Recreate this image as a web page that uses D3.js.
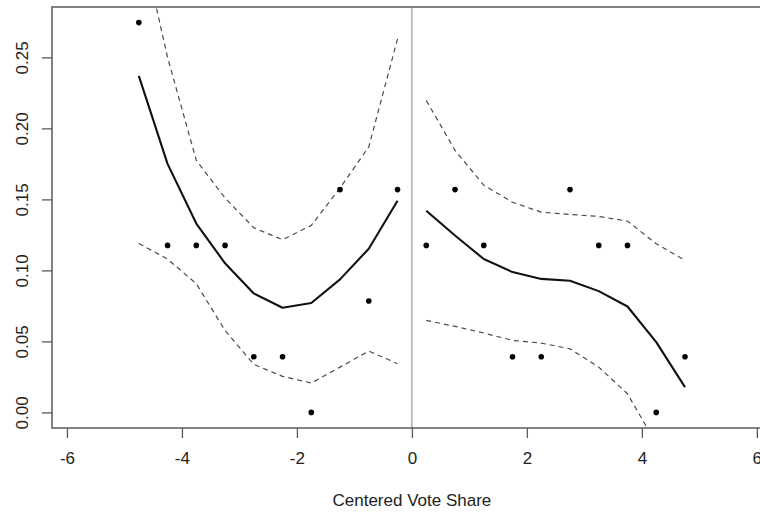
<!DOCTYPE html>
<html>
<head>
<meta charset="utf-8">
<script src="https://cdn.jsdelivr.net/npm/d3@7"></script>
<style>
html,body{margin:0;padding:0;background:#fff;}
svg{display:block;}
text{font-family:"Liberation Sans",Arial,Helvetica,sans-serif;}
</style>
</head>
<body>
<svg id="chart" width="760" height="512"></svg>
<script>
// ---- data ----
const leftX  = [-4.75,-4.25,-3.75,-3.25,-2.75,-2.25,-1.75,-1.25,-0.75,-0.25];
const rightX = [0.25,0.75,1.25,1.75,2.25,2.75,3.25,3.75,4.25,4.75];
const leftPts  = [0.2745,0.1176,0.1176,0.1176,0.0392,0.0392,0.0,0.1569,0.0784,0.1569];
const rightPts = [0.1176,0.1569,0.1176,0.0392,0.0392,0.1569,0.1176,0.1176,0.0,0.0392];
const leftFit  = [0.237,0.175,0.133,0.105,0.0838,0.0737,0.077,0.0937,0.1153,0.149];
const leftUpper= [0.34,0.250,0.1775,0.151,0.130,0.1216,0.1317,0.158,0.187,0.263];
const leftLower= [0.119,0.108,0.0906,0.0577,0.0338,0.0254,0.0207,0.0319,0.0432,0.0343];
const rightFit = [0.142,0.1246,0.108,0.0988,0.094,0.0927,0.0854,0.0746,0.0495,0.0178];
const rightUpper=[0.2197,0.1845,0.160,0.148,0.141,0.1394,0.138,0.1347,0.1188,0.107];
const rightLower=[0.0648,0.0606,0.0559,0.0507,0.0488,0.0448,0.0319,0.0131,-0.022,-0.07];
const xTicks = [-6,-4,-2,0,2,4,6];
const xTickLabels = ["-6","-4","-2","0","2","4","6"];
const yTicks = [0,0.05,0.10,0.15,0.20,0.25];
const yTickLabels = ["0.00","0.05","0.10","0.15","0.20","0.25"];
const xLabel = "Centered Vote Share";

// ---- layout ----
const svg = d3.select("#chart");
const box = {left:52, right:781, top:7, bottom:428};
const yMin = 0, yMax = 0.2745, yPad = (yMax-yMin)*0.04;
const x = d3.scaleLinear().domain([-6.26, 6.42]).range([box.left, box.right]);
const y = d3.scaleLinear().domain([yMin-yPad, yMax+yPad]).range([box.bottom, box.top]);

svg.append("defs").append("clipPath").attr("id","clip")
  .append("rect").attr("x",box.left).attr("y",box.top)
  .attr("width",box.right-box.left).attr("height",box.bottom-box.top);

const plot = svg.append("g").attr("clip-path","url(#clip)");

// vertical line at 0
plot.append("line")
  .attr("x1",x(0)).attr("x2",x(0)).attr("y1",box.top).attr("y2",box.bottom)
  .attr("stroke","#a0a0a0").attr("stroke-width",1.3);

const line = d3.line().x(d=>x(d[0])).y(d=>y(d[1]));
function drawLine(xs, ys, dashed){
  plot.append("path")
    .datum(xs.map((v,i)=>[v,ys[i]]))
    .attr("d",line)
    .attr("fill","none")
    .attr("stroke", dashed ? "#4a4a4a" : "#111")
    .attr("stroke-width", dashed ? 1.2 : 2.1)
    .attr("stroke-dasharray", dashed ? "5,4" : null)
    .attr("stroke-linejoin","round");
}
drawLine(leftX, leftFit, false);
drawLine(leftX, leftUpper, true);
drawLine(leftX, leftLower, true);
drawLine(rightX, rightFit, false);
drawLine(rightX, rightUpper, true);
drawLine(rightX, rightLower, true);

const pts = leftX.map((v,i)=>[v,leftPts[i]]).concat(rightX.map((v,i)=>[v,rightPts[i]]));
plot.selectAll("circle.pt").data(pts).enter().append("circle")
  .attr("class","pt")
  .attr("cx",d=>x(d[0])).attr("cy",d=>y(d[1])).attr("r",2.8)
  .attr("fill","#000");

// box
svg.append("rect")
  .attr("x",box.left).attr("y",box.top)
  .attr("width",box.right-box.left).attr("height",box.bottom-box.top)
  .attr("fill","none").attr("stroke","#5a5a5a").attr("stroke-width",1.5);

// x axis
const xAxis = d3.axisBottom(x).tickValues(xTicks).tickSize(10).tickPadding(14)
  .tickFormat((d,i)=>xTickLabels[i]);
const gx = svg.append("g").attr("transform",`translate(0,${box.bottom})`).call(xAxis);
gx.select(".domain").remove();
gx.selectAll("line").attr("stroke","#5a5a5a").attr("stroke-width",1.3);
gx.selectAll("text").attr("font-size",17).attr("fill","#222")
  .attr("font-family",'"Liberation Sans",Arial,sans-serif');

// y axis
const yAxis = d3.axisLeft(y).tickValues(yTicks).tickSize(10).tickPadding(0)
  .tickFormat((d,i)=>yTickLabels[i]);
const gy = svg.append("g").attr("transform",`translate(${box.left},0)`).call(yAxis);
gy.select(".domain").remove();
gy.selectAll("line").attr("stroke","#5a5a5a").attr("stroke-width",1.3);
gy.selectAll("text")
  .attr("font-size",17).attr("fill","#222")
  .attr("font-family",'"Liberation Sans",Arial,sans-serif')
  .attr("x",null).attr("dy",null)
  .attr("text-anchor","middle")
  .attr("transform","translate(-24,0) rotate(-90)");

// x label
svg.append("text")
  .attr("x",x(0)).attr("y",506)
  .attr("text-anchor","middle")
  .attr("font-size",17).attr("fill","#222")
  .text(xLabel);
</script>
</body>
</html>
